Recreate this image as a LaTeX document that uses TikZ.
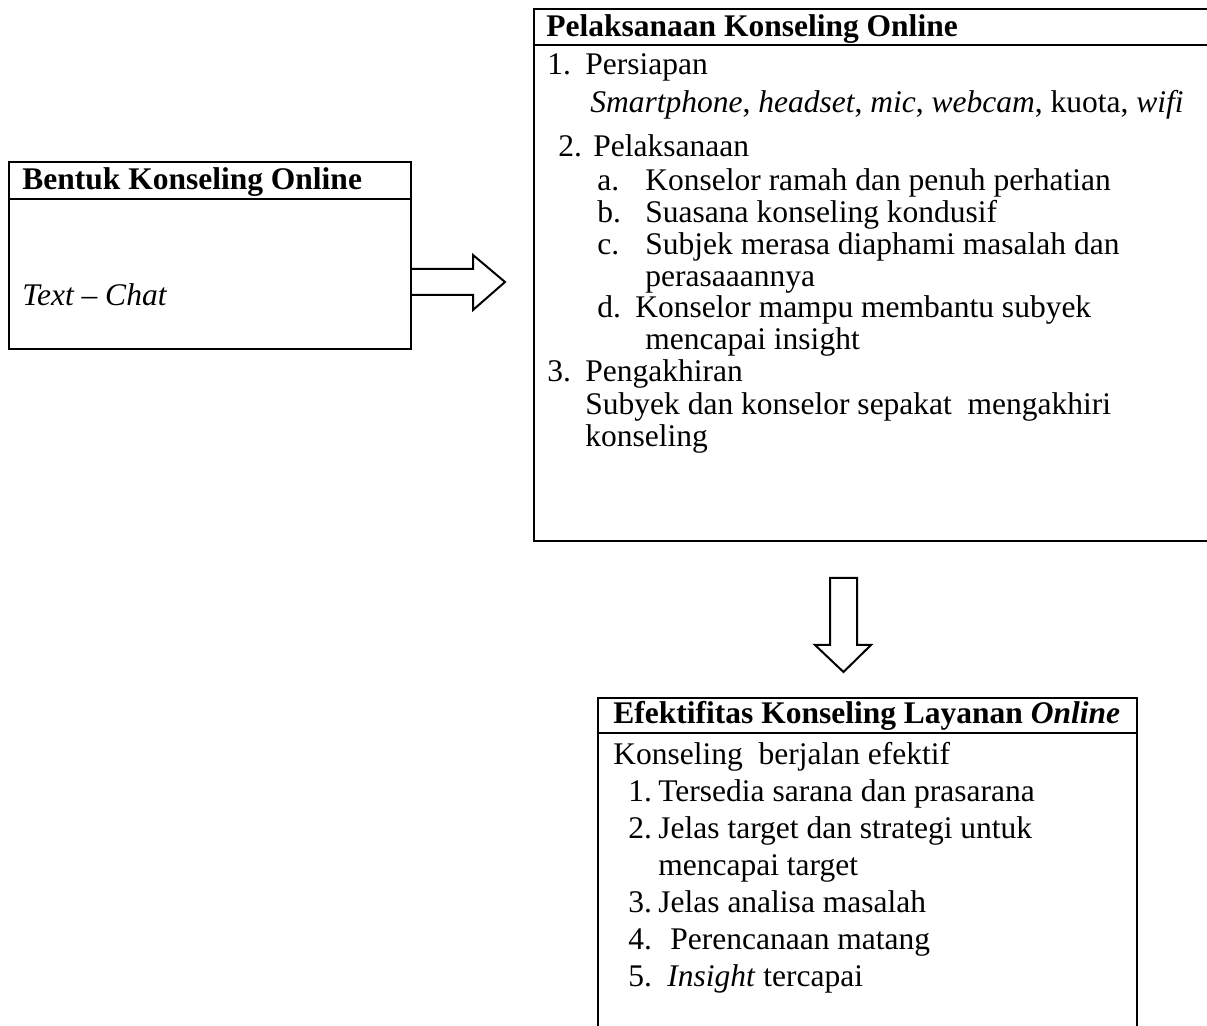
\documentclass[tikz,border=0pt]{standalone}
\usepackage{fontspec}
\setmainfont{Liberation Serif}
\usepackage{tikz}

\tikzset{
    box/.style={draw, line width=1.2pt, rectangle, anchor=north west, inner sep=0pt},
    txt/.style={anchor=base west, inner sep=0pt, font=\fontsize{15.75}{18}\selectfont},
    hd/.style={txt, font=\fontsize{15.75}{18}\selectfont\bfseries},
    blockarrow/.style={draw, line width=1pt, line join=miter},
}

\begin{document}
\begin{tikzpicture}[x=0.5pt, y=-0.5pt]
\useasboundingbox (0,0) rectangle (1207,1026);
\clip (0,0) rectangle (1207,1026);

% Bentuk konseling
\node[box, minimum width=201pt, minimum height=93.5pt] (bentuk) at (8,161) {};
\draw[line width=1.2pt] ([yshift=-19pt]bentuk.north west) -- ([yshift=-19pt]bentuk.north east);
\node[hd] (bentukhd) at (22,190) {Bentuk Konseling Online};
\node[txt] (chat) at (22,306) {\textit{Text – Chat}};

% Pelaksanaan konseling
\node[box, minimum width=345pt, minimum height=266pt] (pelaksanaan) at (533,8) {};
\draw[line width=1.2pt] ([yshift=-18.5pt]pelaksanaan.north west) -- ([yshift=-18.5pt]pelaksanaan.north east);
\node[hd] (pelaksanaanhd) at (546,37) {Pelaksanaan Konseling Online};
\foreach \m/\x/\y [count=\i] in {1./547/75, 2./558/157, a./597/191, b./597/223, c./597/255, d./597/318, 3./547/382} {
    \node[txt] (pm\i) at (\x,\y) {\m};
}
\foreach \x/\y/\t [count=\i] in {
    585/75/Persiapan,
    590/113/{\textit{Smartphone}, \textit{headset}, \textit{mic}, \textit{webcam}, kuota, \textit{wifi}},
    593/157/Pelaksanaan,
    645/191/Konselor ramah dan penuh perhatian,
    645/223/Suasana konseling kondusif,
    645/255/Subjek merasa diaphami masalah dan,
    645/287/perasaaannya,
    635/318/Konselor mampu membantu subyek,
    645/350/mencapai insight,
    585/382/Pengakhiran,
    585/415/{Subyek dan konselor sepakat\ \ mengakhiri},
    585/447/konseling} {
    \node[txt] (pt\i) at (\x,\y) {\t};
}

% Efektifitas
\node[box, minimum width=269.5pt, minimum height=180pt] (efektif) at (597,697) {};
\draw[line width=1.2pt] ([yshift=-18pt]efektif.north west) -- ([yshift=-18pt]efektif.north east);
\node[hd] (efektifhd) at (613,724) {Efektifitas Konseling Layanan \textit{Online}};
\foreach \m/\y [count=\i] in {1./802, 2./839, 3./913, 4./950, 5./987} {
    \node[txt] (em\i) at (628,\y) {\m};
}
\foreach \x/\y/\t [count=\i] in {
    613/765/{Konseling\ \ berjalan efektif},
    658/802/Tersedia sarana dan prasarana,
    658/839/Jelas target dan strategi untuk,
    658/876/mencapai target,
    658/913/Jelas analisa masalah,
    670/950/Perencanaan matang,
    667/987/{\textit{Insight} tercapai}} {
    \node[txt] (et\i) at (\x,\y) {\t};
}

% Block arrows
\draw[blockarrow] (410,269) -- (473,269) -- (473,255) -- (505,282) -- (473,310) -- (473,295) -- (410,295);
\draw[blockarrow] (830,578) -- (857,578) -- (857,645) -- (871,645) -- (843.5,672) -- (815,645) -- (830,645) -- cycle;
\end{tikzpicture}
\end{document}
